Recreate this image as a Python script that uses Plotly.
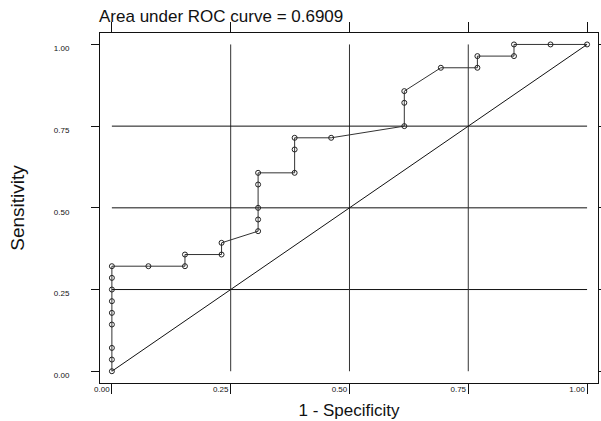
import plotly.graph_objects as go

# ROC curve points (1 - specificity, sensitivity)
one_minus_spec = [0.0, 0.0, 0.0, 0.0, 0.0, 0.0, 0.0, 0.0, 0.0,
                  0.0769, 0.1538, 0.1538, 0.2308, 0.2308,
                  0.3077, 0.3077, 0.3077, 0.3077, 0.3077,
                  0.3846, 0.3846, 0.3846, 0.4615,
                  0.6154, 0.6154, 0.6154,
                  0.6923, 0.7692, 0.7692, 0.8462, 0.8462, 0.9231, 1.0]
sensitivity = [0.0, 0.0357, 0.0714, 0.1429, 0.1786, 0.2143, 0.25, 0.2857, 0.3214,
               0.3214, 0.3214, 0.3571, 0.3571, 0.3929,
               0.4286, 0.4643, 0.5, 0.5714, 0.6071,
               0.6071, 0.6786, 0.7143, 0.7143,
               0.75, 0.8214, 0.8571,
               0.9286, 0.9286, 0.9643, 0.9643, 1.0, 1.0, 1.0]

ref_diag = [0.0, 1.0]
tick_vals = [0.0, 0.25, 0.5, 0.75, 1.0]
tick_text = ["0.00", "0.25", "0.50", "0.75", "1.00"]
inner_lines = [0.25, 0.5, 0.75]
auc_text = "Area under ROC curve = 0.6909"

fig = go.Figure()

fig.add_trace(go.Scatter(x=ref_diag, y=ref_diag, mode="lines",
                         line=dict(color="#111111", width=1), hoverinfo="skip"))
fig.add_trace(go.Scatter(x=one_minus_spec, y=sensitivity, mode="lines+markers",
                         line=dict(color="#333333", width=1),
                         marker=dict(symbol="circle-open", size=5,
                                     color="#222222", line=dict(width=1))))

shapes = []
for v in inner_lines:
    shapes.append(dict(type="line", xref="x", yref="y", x0=0, x1=1, y0=v, y1=v,
                       line=dict(color="#111111", width=1), layer="below"))
    shapes.append(dict(type="line", xref="x", yref="y", x0=v, x1=v, y0=0, y1=1,
                       line=dict(color="#333333", width=1), layer="below"))

fig.update_layout(
    width=611, height=426,
    autosize=False,
    margin=dict(l=100, r=4, t=33, b=43),
    paper_bgcolor="white", plot_bgcolor="white",
    showlegend=False,
    shapes=shapes,
    font=dict(family="Liberation Sans, Arial, sans-serif", color="#111111"),
    annotations=[dict(text=auc_text, xref="paper", yref="paper", x=0, y=1,
                      xanchor="left", yanchor="bottom", yshift=5, xshift=-3,
                      showarrow=False, font=dict(size=17, color="#111111"))],
)

fig.update_xaxes(range=[-0.025, 1.023], tickvals=tick_vals, ticktext=tick_text,
                 showgrid=False, zeroline=False, showline=True, mirror="ticks",
                 linecolor="#111111", linewidth=1, ticks="outside", ticklen=10,
                 tickcolor="#111111", tickfont=dict(size=8),
                 ticklabelshift=-10, ticklabelstandoff=-12,
                 title=dict(text="1 - Specificity", font=dict(size=17), standoff=11))
fig.update_yaxes(range=[-0.036, 1.035], tickvals=tick_vals, ticktext=tick_text,
                 showgrid=False, zeroline=False, showline=True, mirror="ticks",
                 linecolor="#111111", linewidth=1, ticks="outside", ticklen=8,
                 tickcolor="#111111", tickfont=dict(size=8),
                 ticklabelstandoff=20, ticklabelshift=4,
                 title=dict(text="Sensitivity", font=dict(size=19), standoff=24))

fig.write_html("out.html", config={"responsive": False, "displayModeBar": False},
               post_script="document.body.style.margin='0';document.body.style.overflow='hidden';")
